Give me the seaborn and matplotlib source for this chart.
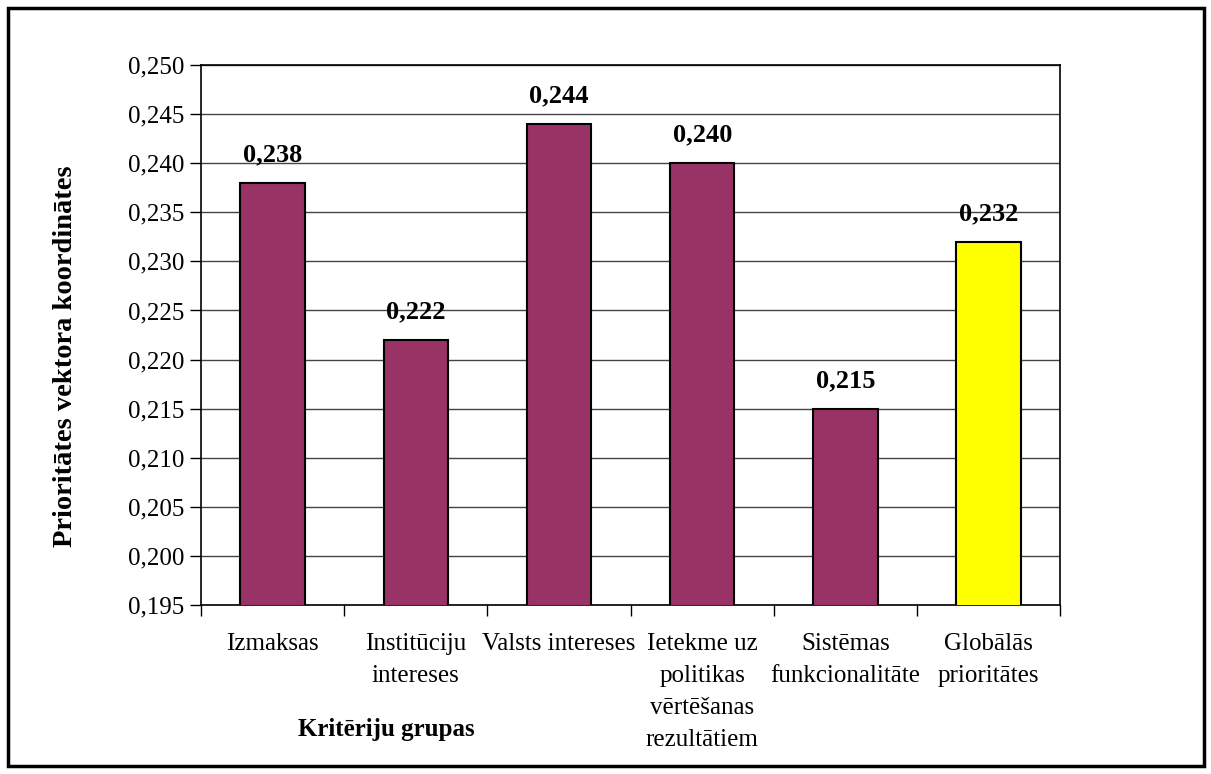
import matplotlib
matplotlib.use("Agg")
import matplotlib.pyplot as plt
from matplotlib.patches import Rectangle
from matplotlib.ticker import FixedLocator, FuncFormatter
import seaborn as sns
import pandas as pd

# Criteria groups and their priority vector coordinates
categories = [
    "Izmaksas",
    "Institūciju\nintereses",
    "Valsts intereses",
    "Ietekme uz\npolitikas\nvērtēšanas\nrezultātiem",
    "Sistēmas\nfunkcionalitāte",
    "Globālās\nprioritātes",
]
values = [0.238, 0.222, 0.244, 0.240, 0.215, 0.232]
kinds = ["grupa", "grupa", "grupa", "grupa", "grupa", "globālā"]
palette = {"grupa": "#993366", "globālā": "#FFFF00"}

y_ticks = [0.195, 0.200, 0.205, 0.210, 0.215, 0.220, 0.225,
           0.230, 0.235, 0.240, 0.245, 0.250]

df = pd.DataFrame({"kategorija": categories, "vertiba": values, "veids": kinds})

sns.set_style("white")
plt.rcParams["font.family"] = ["Liberation Serif", "DejaVu Serif"]
plt.rcParams["text.color"] = "black"
plt.rcParams["axes.labelcolor"] = "black"
plt.rcParams["xtick.color"] = "black"
plt.rcParams["ytick.color"] = "black"

fig = plt.figure(figsize=(12.11, 7.74), dpi=100)
ax = fig.add_axes([0.166, 0.2183, 0.7095, 0.6977])

sns.barplot(data=df, x="kategorija", y="vertiba", hue="veids", palette=palette,
            dodge=False, width=0.45, saturation=1, edgecolor="black",
            linewidth=1.5, legend=False, ax=ax, zorder=3)

ax.set_ylim(0.195, 0.250)
ax.set_xlim(-0.5, len(categories) - 0.5)
ax.set_yticks(y_ticks)
ax.yaxis.set_major_formatter(FuncFormatter(lambda v, p: f"{v:.3f}".replace(".", ",")))
ax.grid(axis="y", color="#444444", linewidth=1.0, zorder=0)
ax.set_axisbelow(True)

for s in ax.spines.values():
    s.set_visible(True)
    s.set_color("black")
    s.set_linewidth(1.2)

ax.tick_params(axis="y", which="major", direction="out", length=8, width=1,
               labelsize=18, pad=4, left=True)
ax.tick_params(axis="x", which="major", length=0, labelsize=18, pad=20)
ax.xaxis.set_minor_locator(FixedLocator([i - 0.5 for i in range(len(categories) + 1)]))
ax.tick_params(axis="x", which="minor", direction="out", length=8, width=1,
               bottom=True)
for lbl in ax.get_xticklabels():
    lbl.set_linespacing(1.6)
    lbl.set_verticalalignment("top")

# Value labels above bars
for cont in ax.containers:
    labels = []
    for bar in cont:
        h = bar.get_height()
        labels.append(f"{h:.3f}".replace(".", ",") if h == h else "")
    ax.bar_label(cont, labels=labels, padding=12, fontsize=19, fontweight="bold")

ax.set_ylabel("Prioritātes vektora koordinātes", fontsize=20.5, fontweight="bold")
ax.set_xlabel("Kritēriju grupas", fontsize=18, fontweight="bold")
ax.xaxis.set_label_coords(0.216, -0.21)
ax.yaxis.set_label_coords(-0.143, 0.46)

# Outer chart frame
fig.patches.append(Rectangle((8 / 1211, 8 / 774), 1196 / 1211, 758 / 774,
                             transform=fig.transFigure, fill=False,
                             edgecolor="black", linewidth=2.5))

fig.savefig("out.png", dpi=100)
